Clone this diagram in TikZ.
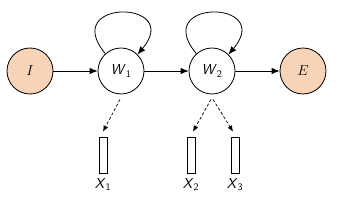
\documentclass[tikz,border=0pt]{standalone}
\usepackage{amsmath}
\usepackage{tikz}
\usetikzlibrary{positioning,arrows.meta,calc}
\definecolor{ink}  {HTML}{000000}
\definecolor{peach}{HTML}{F7D3B8}
\tikzset{
  >={Latex[length=8pt,width=6.5pt]},
  every node/.style={font=\Large},
  % --- nodes
  state/.style  = {circle, draw=ink, line width=0.8pt, minimum size=46pt, inner sep=0pt},
  term/.style   = {state, fill=peach},
  obs/.style    = {rectangle, draw=ink, line width=0.7pt, minimum width=8pt,
                   minimum height=36pt, inner sep=0pt},
  olbl/.style   = {inner sep=1pt},
  % --- edges
  e/.style      = {->, line width=0.8pt, draw=ink},
  emit/.style   = {-{Latex[length=6pt,width=5pt]}, dash pattern=on 3pt off 2pt,
                   line width=0.7pt, draw=ink},
}
\newcommand{\sfv}[2]{\textsf{\itshape #1}$_{\textsf{\upshape #2}}$}
\begin{document}
\begin{tikzpicture}[x=1pt,y=1pt]
  \useasboundingbox (0,0) rectangle (356,212);
  \node[term]  (i)  at (30,141)  {$I$};
  \node[state] (w1) at (121,141) {\sfv{W}{1}};
  \node[state] (w2) at (212,141) {\sfv{W}{2}};
  \node[term]  (e)  at (303,141) {$E$};
  \node[obs] (x1) at (103,57) {};
  \node[obs] (x2) at (191,57) {};
  \node[obs] (x3) at (235,57) {};
  \node[olbl, below=4pt of x1] {\sfv{X}{1}};
  \node[olbl, below=4pt of x2] {\sfv{X}{2}};
  \node[olbl, below=4pt of x3] {\sfv{X}{3}};
  % transitions
  \draw[e] (i) -- (w1);
  \draw[e] (w1) -- (w2);
  \draw[e] (w2) -- (e);
  \draw[e] (w1.132) .. controls +(130:72) and +(50:72) .. (w1.45);
  \draw[e] (w2.132) .. controls +(130:72) and +(50:72) .. (w2.45);
  % emissions
  \draw[emit] ($(w1.south)+(-1,-5)$) -- ($(x1.north)+(0,5)$);
  \draw[emit] ($(w2.south)+(-1,-5)$) -- ($(x2.north)+(2,5)$);
  \draw[emit] ($(w2.south)+(1,-5)$) -- ($(x3.north)+(-2,5)$);
\end{tikzpicture}
\end{document}
